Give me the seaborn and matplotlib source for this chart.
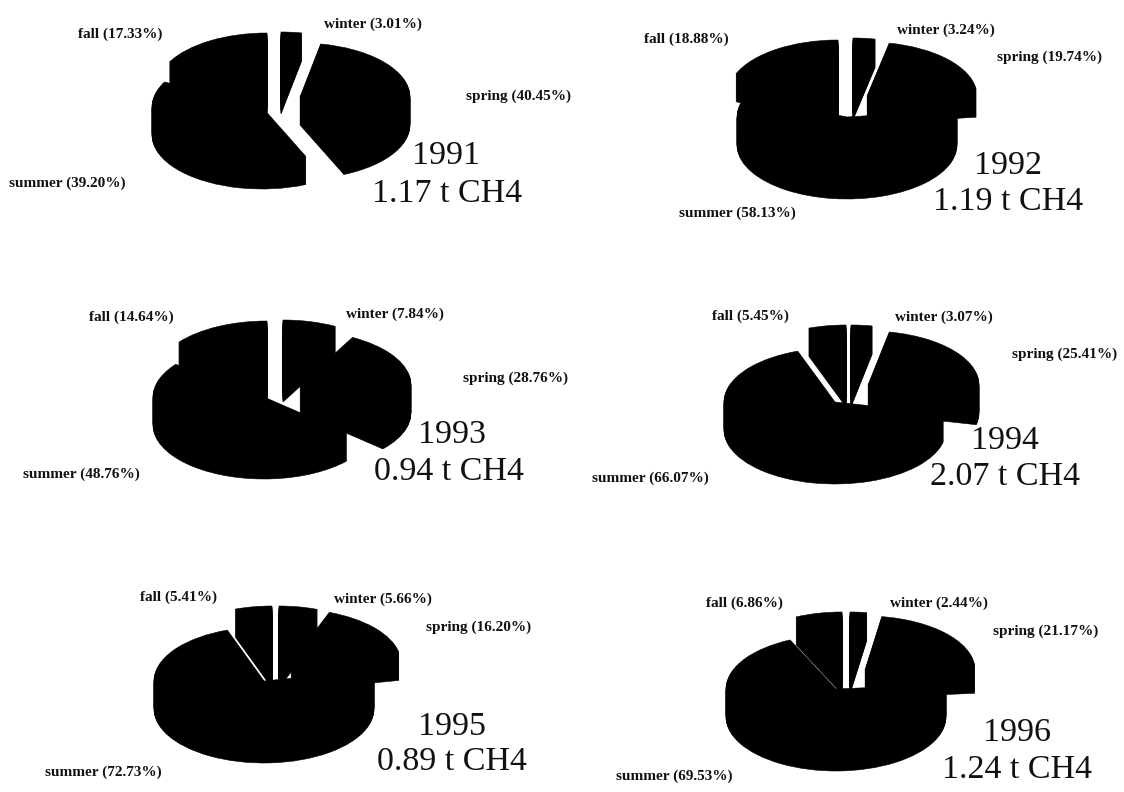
import matplotlib
matplotlib.use("Agg")
import matplotlib.pyplot as plt
import seaborn as sns

# Seasonal share (%) of annual methane emission, one pie per year
years = [1991, 1992, 1993, 1994, 1995, 1996]
totals = ["1.17", "1.19", "0.94", "2.07", "0.89", "1.24"]
seasons = ["winter", "spring", "summer", "fall"]
winter = [3.01, 3.24, 7.84, 3.07, 5.66, 2.44]
spring = [40.45, 19.74, 28.76, 25.41, 16.20, 21.17]
summer = [39.20, 58.13, 48.76, 66.07, 72.73, 69.53]
fall = [17.33, 18.88, 14.64, 5.45, 5.41, 6.86]

W, H = 1124, 792

# Layout in pixels: ellipse radii, then each slice's tip (winter, spring, summer, fall)
layout = {
    1991: dict(rx=110, ry=54, tips=[(281, 86), (300, 97), (262, 107), (267, 87)]),
    1992: dict(rx=110, ry=54, tips=[(853, 92), (867, 96), (847, 117), (838, 94)]),
    1993: dict(rx=111, ry=54, tips=[(283, 374), (300, 385), (264, 397), (267, 375)]),
    1994: dict(rx=111, ry=54, tips=[(851, 379), (868, 385), (835, 402), (846, 379)]),
    1995: dict(rx=110, ry=54, tips=[(279, 660), (291, 663), (264, 681), (272, 660)]),
    1996: dict(rx=110, ry=54, tips=[(850, 666), (865, 670), (836, 689), (842, 666)]),
}
DEPTH = 28

# Left edge and vertical centre of each season label
label_pos = {
    1991: [(324, 24), (466, 96), (9, 183), (78, 34)],
    1992: [(897, 30), (997, 57), (679, 213), (644, 39)],
    1993: [(346, 314), (463, 378), (23, 474), (89, 317)],
    1994: [(895, 317), (1012, 354), (592, 478), (712, 316)],
    1995: [(334, 599), (426, 627), (45, 772), (140, 597)],
    1996: [(890, 603), (993, 631), (616, 776), (706, 603)],
}
# Centres of the year line and the total line
caption_pos = {
    1991: [(446, 156), (447, 194)],
    1992: [(1008, 166), (1008, 202)],
    1993: [(452, 435), (449, 472)],
    1994: [(1005, 441), (1005, 477)],
    1995: [(452, 727), (452, 762)],
    1996: [(1017, 733), (1017, 770)],
}

sns.set_theme(style="white")
plt.rcParams["font.family"] = ["Liberation Serif", "DejaVu Serif"]

fig = plt.figure(figsize=(W / 100, H / 100), dpi=100, facecolor="white")


def draw_pie(values, rx, ry, tips):
    """Extruded exploded pie: stack flat pies from the bottom face to the top face."""
    ax = fig.add_axes([0, 0, 1, 1], facecolor="none")
    for drop in range(DEPTH, -1, -1):
        wedges, _ = ax.pie(
            values,
            startangle=90,
            counterclock=False,
            radius=1,
            colors=["black"] * len(values),
            wedgeprops=dict(linewidth=0.4, edgecolor="black"),
        )
        for wedge, (tx, ty) in zip(wedges, tips):
            wedge.set_center((tx / rx, (H - ty - drop) / ry))
    ax.set_aspect("auto")
    ax.set_xlim(0, W / rx)
    ax.set_ylim(0, H / ry)
    ax.axis("off")


for i, year in enumerate(years):
    shares = [winter[i], spring[i], summer[i], fall[i]]
    draw_pie(shares, layout[year]["rx"], layout[year]["ry"], layout[year]["tips"])

# Text layer in pixel coordinates
overlay = fig.add_axes([0, 0, 1, 1], facecolor="none")
overlay.set_xlim(0, W)
overlay.set_ylim(H, 0)
overlay.axis("off")

for i, year in enumerate(years):
    shares = [winter[i], spring[i], summer[i], fall[i]]
    for name, share, (x, y) in zip(seasons, shares, label_pos[year]):
        overlay.text(x, y, f"{name} ({share:.2f}%)", ha="left", va="center",
                     fontsize=11, fontweight="bold", color="#111111")
    (x1, y1), (x2, y2) = caption_pos[year]
    overlay.text(x1, y1, str(year), ha="center", va="center", fontsize=24.5, color="#111111")
    overlay.text(x2, y2, f"{totals[i]} t CH4", ha="center", va="center", fontsize=24.5, color="#111111")

fig.savefig("out.png", dpi=100, facecolor="white")
